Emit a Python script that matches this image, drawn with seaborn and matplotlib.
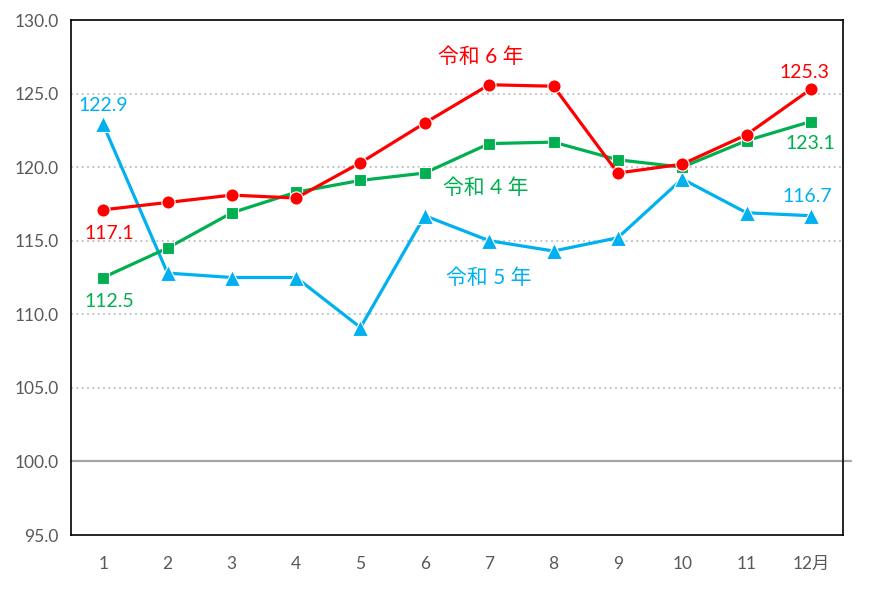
import matplotlib
matplotlib.use('Agg')
import matplotlib.pyplot as plt
import seaborn as sns
import pandas as pd

# データ
months = list(range(1, 13))
month_labels = ['1', '2', '3', '4', '5', '6', '7', '8', '9', '10', '11', '12月']
r4 = [112.5, 114.5, 116.9, 118.3, 119.1, 119.6, 121.6, 121.7, 120.5, 120.0, 121.8, 123.1]
r5 = [122.9, 112.8, 112.5, 112.5, 109.1, 116.7, 115.0, 114.3, 115.2, 119.2, 116.9, 116.7]
r6 = [117.1, 117.6, 118.1, 117.9, 120.3, 123.0, 125.6, 125.5, 119.6, 120.2, 122.2, 125.3]
series_names = ['令和 5 年', '令和 4 年', '令和 6 年']
colors = {'令和 4 年': '#00B050', '令和 5 年': '#00B0F0', '令和 6 年': '#FF0000'}
markers = {'令和 4 年': 's', '令和 5 年': '^', '令和 6 年': 'o'}
msizes = {'令和 4 年': 9, '令和 5 年': 11, '令和 6 年': 9.5}

df = pd.concat([
    pd.DataFrame({'月': months, '指数': r4, '年': '令和 4 年'}),
    pd.DataFrame({'月': months, '指数': r5, '年': '令和 5 年'}),
    pd.DataFrame({'月': months, '指数': r6, '年': '令和 6 年'}),
])

sns.set_style('white')
plt.rcParams['font.family'] = ['Lato', 'Noto Sans CJK JP', 'DejaVu Sans']

fig = plt.figure(figsize=(8.93, 5.95), dpi=100)
ax = fig.add_axes([71 / 893, 1 - 535 / 595, (843 - 71) / 893, (535 - 20) / 595])

# 令和5年 → 令和4年 → 令和6年 の順に重ねる
for name in series_names:
    sns.lineplot(data=df[df['年'] == name], x='月', y='指数', color=colors[name],
                 marker=markers[name], markersize=msizes[name], linewidth=2.3,
                 markeredgecolor='white', markeredgewidth=0.8, ax=ax)

ax.set_xlim(0.5, 12.5)
ax.set_ylim(95, 130)
ax.set_yticks([95, 100, 105, 110, 115, 120, 125, 130])
ax.set_yticklabels([f'{v:.1f}' for v in ax.get_yticks()])
ax.set_xticks(months)
ax.set_xticklabels(month_labels)
ax.tick_params(axis='both', length=0, labelsize=12.5, labelcolor='#595959')
ax.tick_params(axis='x', pad=15)
ax.tick_params(axis='y', pad=9)
ax.set_xlabel('')
ax.set_ylabel('')

# 目盛線
for v in [105, 110, 115, 120, 125, 130]:
    ax.axhline(v, color='#BFBFBF', linestyle=(0, (1.2, 2.0)), linewidth=1.2, zorder=0)
ax.axhline(100, color='#A6A6A6', linewidth=1.6, xmax=1.01, clip_on=False, zorder=1)

for s in ax.spines.values():
    s.set_visible(True)
    s.set_color('black')
    s.set_linewidth(1.2)

# データラベル
ax.text(1, 124.2, '122.9', color='#00B0F0', fontsize=14, ha='center', va='center')
ax.text(1.1, 115.5, '117.1', color='#FF0000', fontsize=14, ha='center', va='center')
ax.text(1.1, 110.9, '112.5', color='#00B050', fontsize=14, ha='center', va='center')
ax.text(11.9, 126.4, '125.3', color='#FF0000', fontsize=14, ha='center', va='center')
ax.text(12.0, 121.6, '123.1', color='#00B050', fontsize=14, ha='center', va='center')
ax.text(11.95, 118.0, '116.7', color='#00B0F0', fontsize=14, ha='center', va='center')

# 系列名
ax.text(6.87, 127.5, '令和 6 年', color='#FF0000', fontsize=15, ha='center', va='center')
ax.text(6.94, 118.6, '令和 4 年', color='#00B050', fontsize=15, ha='center', va='center')
ax.text(7.0, 112.45, '令和 5 年', color='#00B0F0', fontsize=15, ha='center', va='center')

fig.savefig('out.png', dpi=100)
